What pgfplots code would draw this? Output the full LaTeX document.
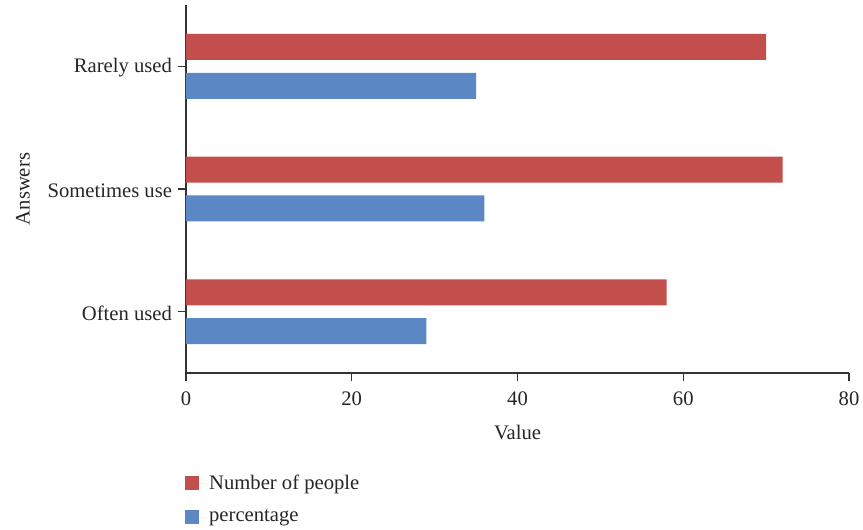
\documentclass[border=0pt]{standalone}
\usepackage{pgfplots}
\pgfplotsset{compat=1.18}
\usepackage{fontspec}
\setmainfont{Liberation Serif}
\definecolor{cred}{HTML}{C24F4B}
\definecolor{cblue}{HTML}{5B88C4}
\definecolor{axc}{HTML}{333333}
\begin{document}
\begin{tikzpicture}
\useasboundingbox (-108.1pt,-90.7pt) rectangle (393.6pt,216.9pt);
\begin{axis}[
  at={(0,0)}, anchor=south west,
  scale only axis,
  width=385.5pt, height=214pt,
  xbar,
  xmin=0, xmax=80,
  ymin=-0.5, ymax=2.5,
  xtick={0,20,40,60,80},
  ytick={0,1,2},
  yticklabels={Often used,Sometimes use,Rarely used},
  axis x line*=bottom,
  axis y line*=left,
  axis line style={axc, line width=0.8pt},
  tick style={axc, line width=0.8pt},
  tick align=outside,
  major tick length=4.6pt,
  /pgf/number format/assume math mode=true,
  ticklabel style={font=\fontsize{12}{14}\selectfont, text=black!85},
  xticklabel style={yshift=-3pt},
  yticklabel style={yshift=-1pt},
  label style={font=\fontsize{12}{14}\selectfont, text=black!85},
  xlabel={Value},
  xlabel style={yshift=-4pt},
  ylabel={Answers},
  ylabel style={yshift=3.5pt},
  bar width=15.1pt,
  legend style={at={(rel axis cs:0,0)}, anchor=north west, yshift=-55pt, xshift=-4pt,
    draw=none, fill=none, font=\fontsize{12}{14}\selectfont, text=black!85,
    row sep=6.5pt, legend cell align=left},
  legend image code/.code={\fill[#1] (0pt,-4pt) rectangle (8.1pt,4.1pt); \path (0pt,0pt) -- (12.3pt,0pt);},
]
\addplot[fill=cred, draw=none, bar shift=11.3pt] coordinates {(58,0) (72,1) (70,2)};
\addlegendentry{Number of people}
\addplot[fill=cblue, draw=none, bar shift=-11.3pt] coordinates {(29,0) (36,1) (35,2)};
\addlegendentry{percentage}
\end{axis}
\end{tikzpicture}
\end{document}
